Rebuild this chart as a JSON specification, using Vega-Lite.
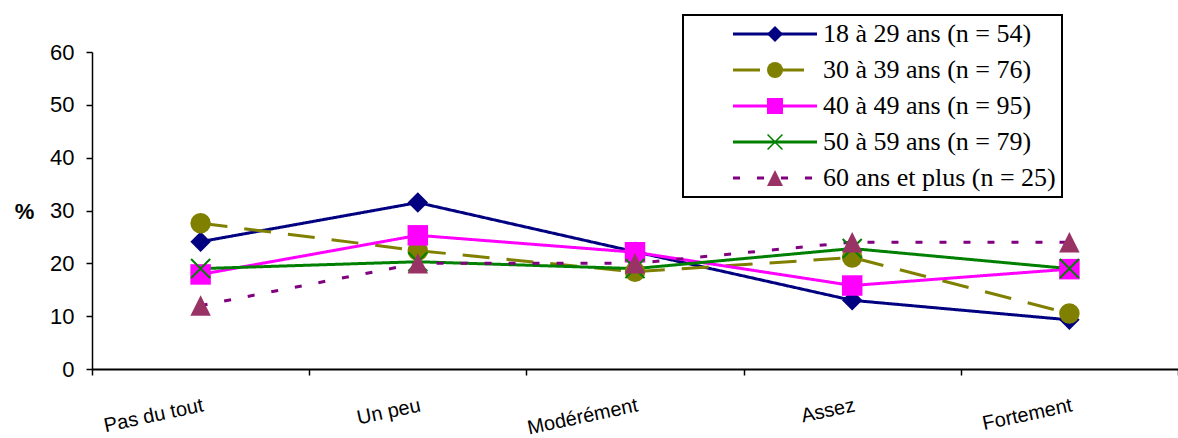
{
  "$schema": "https://vega.github.io/schema/vega-lite/v6.json",
  "width": 1086,
  "height": 317,
  "autosize": "none",
  "padding": {"left": 92, "top": 52, "right": 0, "bottom": 69},
  "background": "white",
  "config": {
    "view": {"stroke": null},
    "font": "Liberation Sans",
    "legend": {"strokeWidth": 2}
  },
  "data": {
    "values": [
      {"cat": "Pas du tout", "group": "18 à 29 ans (n = 54)", "pct": 24.1},
      {"cat": "Un peu", "group": "18 à 29 ans (n = 54)", "pct": 31.5},
      {"cat": "Modérément", "group": "18 à 29 ans (n = 54)", "pct": 22.2},
      {"cat": "Assez", "group": "18 à 29 ans (n = 54)", "pct": 13.0},
      {"cat": "Fortement", "group": "18 à 29 ans (n = 54)", "pct": 9.3},
      {"cat": "Pas du tout", "group": "30 à 39 ans (n = 76)", "pct": 27.6},
      {"cat": "Un peu", "group": "30 à 39 ans (n = 76)", "pct": 22.4},
      {"cat": "Modérément", "group": "30 à 39 ans (n = 76)", "pct": 18.4},
      {"cat": "Assez", "group": "30 à 39 ans (n = 76)", "pct": 21.1},
      {"cat": "Fortement", "group": "30 à 39 ans (n = 76)", "pct": 10.5},
      {"cat": "Pas du tout", "group": "40 à 49 ans (n = 95)", "pct": 17.9},
      {"cat": "Un peu", "group": "40 à 49 ans (n = 95)", "pct": 25.3},
      {"cat": "Modérément", "group": "40 à 49 ans (n = 95)", "pct": 22.1},
      {"cat": "Assez", "group": "40 à 49 ans (n = 95)", "pct": 15.8},
      {"cat": "Fortement", "group": "40 à 49 ans (n = 95)", "pct": 18.9},
      {"cat": "Pas du tout", "group": "50 à 59 ans (n = 79)", "pct": 19.0},
      {"cat": "Un peu", "group": "50 à 59 ans (n = 79)", "pct": 20.3},
      {"cat": "Modérément", "group": "50 à 59 ans (n = 79)", "pct": 19.0},
      {"cat": "Assez", "group": "50 à 59 ans (n = 79)", "pct": 22.8},
      {"cat": "Fortement", "group": "50 à 59 ans (n = 79)", "pct": 19.0},
      {"cat": "Pas du tout", "group": "60 ans et plus (n = 25)", "pct": 12},
      {"cat": "Un peu", "group": "60 ans et plus (n = 25)", "pct": 20},
      {"cat": "Modérément", "group": "60 ans et plus (n = 25)", "pct": 20},
      {"cat": "Assez", "group": "60 ans et plus (n = 25)", "pct": 24},
      {"cat": "Fortement", "group": "60 ans et plus (n = 25)", "pct": 24}
    ]
  },
  "encoding": {
    "x": {
      "field": "cat",
      "type": "nominal",
      "scale": {
        "type": "band",
        "domain": ["Pas du tout", "Un peu", "Modérément", "Assez", "Fortement"],
        "paddingInner": 0,
        "paddingOuter": 0
      },
      "axis": {
        "title": null,
        "tickBand": "extent",
        "domainColor": "black",
        "domainWidth": 2,
        "tickColor": "black",
        "tickWidth": 1.5,
        "tickSize": 6,
        "labelAngle": -12,
        "labelAlign": "right",
        "labelBaseline": "top",
        "labelPadding": 20,
        "labelFontSize": 20,
        "labelFont": "Liberation Sans",
        "labelColor": "black"
      }
    },
    "y": {
      "field": "pct",
      "type": "quantitative",
      "scale": {"domain": [0, 60], "nice": false},
      "axis": {
        "values": [0, 10, 20, 30, 40, 50, 60],
        "grid": false,
        "domainColor": "black",
        "domainWidth": 1.5,
        "tickColor": "black",
        "tickWidth": 1.5,
        "tickSize": 6,
        "labelPadding": 12,
        "labelFontSize": 22,
        "labelFont": "Liberation Sans",
        "labelColor": "black",
        "title": "%",
        "titleAngle": 0,
        "titleFontSize": 22,
        "titleFontWeight": "bold",
        "titleFont": "Liberation Sans",
        "titleColor": "black",
        "titleAlign": "center",
        "titleBaseline": "middle",
        "titleX": -68,
        "titleY": 159
      }
    }
  },
  "layer": [
    {
      "mark": {"type": "line", "strokeWidth": 3},
      "encoding": {
        "stroke": {
          "field": "group",
          "type": "nominal",
          "scale": {"range": ["#000080", "#808000", "#FF00FF", "#008000", "#800080"]},
          "legend": {
            "orient": "none",
            "legendX": 591,
            "legendY": -37,
            "title": null,
            "padding": 6,
            "strokeColor": "black",
            "fillColor": "white",
            "symbolType": "M-4,0H4",
            "symbolSize": 441,
            "symbolStrokeWidth": 3,
            "symbolOffset": 73,
            "labelOffset": 35,
            "labelFont": "Liberation Serif",
            "labelFontSize": 26,
            "labelColor": "black",
            "labelLimit": 400,
            "rowPadding": 10,
            "labelExpr": "datum.label + '\u00a0\u00a0\u00a0\u00a0\u00a0\u00a0\u00a0'"
          }
        },
        "strokeDash": {
          "field": "group",
          "type": "nominal",
          "scale": {"range": [[1, 0], [27, 17], [1, 0], [1, 0], [7, 17]]},
          "legend": {
            "orient": "none",
            "legendX": 591,
            "legendY": -37,
            "title": null
          }
        }
      }
    },
    {
      "mark": {"type": "point", "filled": true, "opacity": 1, "size": 420},
      "encoding": {
        "fill": {
          "field": "group",
          "type": "nominal",
          "scale": {
            "domain": ["18 à 29 ans (n = 54)", "30 à 39 ans (n = 76)", "40 à 49 ans (n = 95)", "50 à 59 ans (n = 79)", "60 ans et plus (n = 25)"],
            "range": ["#000080", "#808000", "#FF00FF", "#008000", "#993366"]
          },
          "legend": {
            "orient": "none",
            "legendX": 591,
            "legendY": -37,
            "title": null,
            "padding": 6,
            "symbolSize": 256,
            "symbolStrokeWidth": 0,
            "symbolOffset": 73,
            "labelOffset": 35,
            "labelFont": "Liberation Serif",
            "labelFontSize": 26,
            "labelOpacity": 0,
            "labelLimit": 400,
            "rowPadding": 10,
            "labelExpr": "datum.label + '\u00a0\u00a0\u00a0\u00a0\u00a0\u00a0\u00a0'"
          }
        },
        "shape": {
          "field": "group",
          "type": "nominal",
          "scale": {
            "domain": ["18 à 29 ans (n = 54)", "30 à 39 ans (n = 76)", "40 à 49 ans (n = 95)", "50 à 59 ans (n = 79)", "60 ans et plus (n = 25)"],
            "range": [
              "M0,-1L1,0L0,1L-1,0Z",
              "circle",
              "square",
              "M-1,-0.86L-0.86,-1L1,0.86L0.86,1Z M0.86,-1L1,-0.86L-0.86,1L-1,0.86Z",
              "M0,-1L1,1L-1,1Z"
            ]
          },
          "legend": {
            "orient": "none",
            "legendX": 591,
            "legendY": -37,
            "title": null
          }
        }
      }
    }
  ]
}
